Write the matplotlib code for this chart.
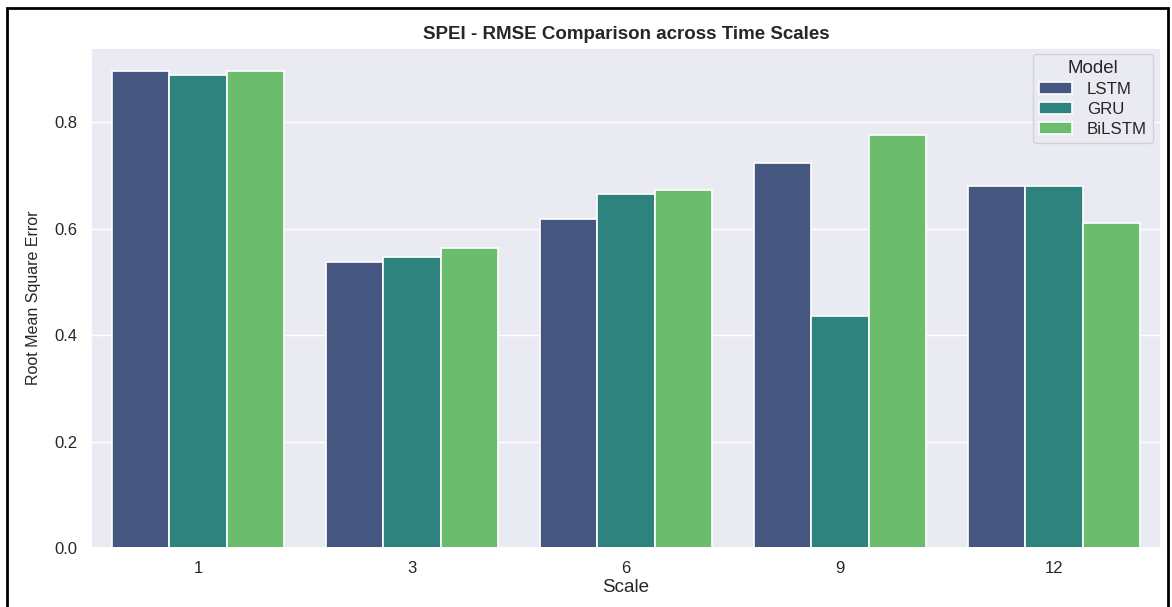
import matplotlib
matplotlib.use("Agg")
import matplotlib.pyplot as plt
import seaborn as sns
import numpy as np
import pandas as pd
from matplotlib.patches import Rectangle

scales = ["1", "3", "6", "9", "12"]
models = ["LSTM", "GRU", "BiLSTM"]
lstm = [0.897, 0.537, 0.618, 0.724, 0.681]
gru = [0.888, 0.547, 0.665, 0.436, 0.680]
bilstm = [0.897, 0.564, 0.673, 0.776, 0.611]

df = pd.DataFrame({
    "Scale": scales * 3,
    "Model": ["LSTM"] * 5 + ["GRU"] * 5 + ["BiLSTM"] * 5,
    "RMSE": lstm + gru + bilstm,
})

sns.set_theme(style="darkgrid")
plt.rcParams["font.family"] = ["Liberation Sans", "DejaVu Sans"]

fig = plt.figure(figsize=(11.72, 6.07), dpi=100)
ax = fig.add_axes([91 / 1172, 1 - 548 / 607, (1161 - 91) / 1172, (548 - 47.5) / 607])

sns.barplot(data=df, x="Scale", y="RMSE", hue="Model", hue_order=models,
            palette="viridis", ax=ax, edgecolor="white", linewidth=1.2,
            order=scales)

ax.set_ylim(0, 0.9405)
ax.set_xlim(-0.5, 4.5)
ax.set_yticks([0.0, 0.2, 0.4, 0.6, 0.8])
ax.set_yticklabels(["0.0", "0.2", "0.4", "0.6", "0.8"])
ax.tick_params(axis="both", labelsize=12, colors="#262626")
ax.set_xlabel("Scale", fontsize=13.5, color="#262626", labelpad=2)
ax.set_ylabel("Root Mean Square Error", fontsize=11.5, color="#262626", labelpad=10)
ax.set_title("SPEI - RMSE Comparison across Time Scales", fontsize=13.5,
             fontweight="bold", color="#262626", pad=6)

leg = ax.legend(title="Model", loc="upper right", fontsize=12.2, title_fontsize=13.5,
                bbox_to_anchor=(1 - 8 / 1070, 1 - 6.5 / 500.5), borderaxespad=0,
                labelspacing=0.3, handlelength=1.95, borderpad=0.35,
                handletextpad=0.9)

fig.patches.append(Rectangle((7 / 1172, -0.02), (1168 - 7) / 1172, 1 - 8 / 607 + 0.02,
                             transform=fig.transFigure, fill=False,
                             edgecolor="black", linewidth=2, zorder=10))

fig.savefig("out.png", dpi=100)
